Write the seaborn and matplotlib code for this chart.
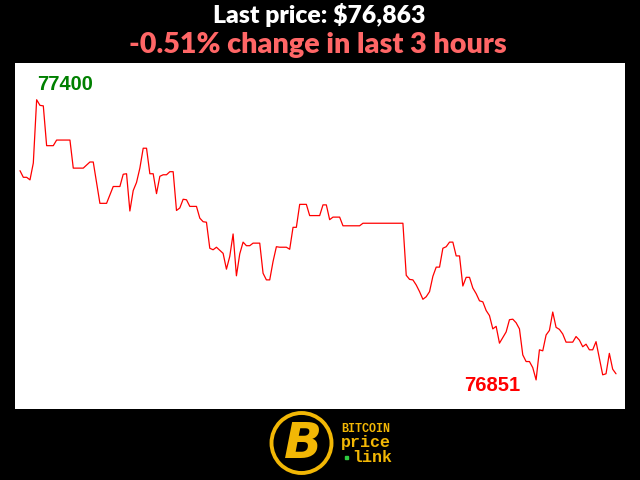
import matplotlib
matplotlib.use("Agg")
import matplotlib.pyplot as plt
import matplotlib.patches as mpatches
import seaborn as sns
import pandas as pd

# ---- data (minute index within the last 3 hours, price in USD) ----
minutes = [0, 1, 2, 3, 4, 5, 6, 7, 8, 10, 11, 15, 16, 19, 21, 22, 24, 26, 28, 30,
           31, 32, 33, 34, 35, 36, 37, 38, 39, 40, 41, 42, 43, 44, 45, 46, 47, 48, 49, 50,
           51, 53, 54, 55, 56, 57, 58, 59, 60, 61, 62, 63, 64, 65, 66, 67, 68, 69, 70, 72,
           73, 74, 75, 76, 77, 78, 80, 81, 82, 83, 84, 86, 87, 90, 91, 92, 93, 94, 96, 97,
           102, 103, 115, 116, 117, 118, 119, 120, 121, 122, 123, 124, 125, 126, 127, 128, 129, 130, 131, 132,
           133, 134, 135, 136, 137, 138, 139, 140, 141, 142, 143, 144, 145, 146, 147, 148, 149, 150, 151, 152,
           153, 154, 155, 156, 157, 158, 159, 160, 161, 162, 163, 164, 166, 167, 168, 169, 170, 171, 172, 173,
           174, 175, 176, 177, 178, 179]
prices = [77261, 77248, 77248, 77243, 77276, 77400, 77389, 77388, 77310, 77310, 77321, 77321, 77266, 77266, 77278, 77278, 77197, 77197, 77230, 77230,
          77254, 77255, 77182, 77222, 77238, 77266, 77305, 77305, 77255, 77255, 77216, 77250, 77253, 77253, 77259, 77259, 77183, 77188, 77205, 77204,
          77191, 77191, 77168, 77161, 77160, 77109, 77106, 77111, 77105, 77099, 77068, 77093, 77137, 77055, 77098, 77121, 77114, 77114, 77119, 77119,
          77060, 77047, 77047, 77083, 77112, 77111, 77111, 77107, 77150, 77150, 77195, 77195, 77173, 77173, 77194, 77194, 77165, 77170, 77170, 77153,
          77153, 77158, 77158, 77056, 77048, 77047, 77037, 77024, 77009, 77014, 77024, 77054, 77072, 77072, 77109, 77112, 77121, 77121, 77094, 77094,
          77035, 77052, 77052, 77031, 77020, 77006, 77004, 76987, 76977, 76951, 76956, 76923, 76934, 76945, 76969, 76970, 76963, 76951, 76900, 76887,
          76887, 76875, 76851, 76910, 76908, 76939, 76948, 76984, 76954, 76950, 76941, 76925, 76925, 76936, 76929, 76916, 76921, 76910, 76910, 76926,
          76894, 76861, 76863, 76903, 76872, 76863]

title_line1 = "Last price: $76,863"
title_line2 = "-0.51% change in last 3 hours"
max_label = "77400"
min_label = "76851"

df = pd.DataFrame({"minute": minutes, "price": prices})

sns.set_style("white")
plt.rcParams["font.family"] = ["Lato", "DejaVu Sans"]

fig = plt.figure(figsize=(6.4, 4.8), dpi=100, facecolor="black")
ax = fig.add_axes([15 / 640, 71 / 480, 610 / 640, 346 / 480])
ax.set_facecolor("white")

sns.lineplot(data=df, x="minute", y="price", ax=ax, color="#ff0000",
             linewidth=0.9, estimator=None, sort=False)

ax.set_xlim(-1.5, 181.7)
ax.set_ylim(76794, 77472)
ax.set_xticks([])
ax.set_yticks([])
ax.set_xlabel("")
ax.set_ylabel("")
for s in ax.spines.values():
    s.set_visible(False)

# max / min annotations
imax = prices.index(max(prices))
imin = prices.index(min(prices))
ax.annotate(max_label, xy=(minutes[imax], prices[imax]), xytext=(0, 10),
            textcoords="offset pixels", ha="left", va="baseline",
            color="#008000", fontsize=14.5, fontweight="bold",
            family=["Liberation Sans", "DejaVu Sans"])
ax.annotate(min_label, xy=(minutes[imin], prices[imin]), xytext=(-16, -11),
            textcoords="offset pixels", ha="right", va="baseline",
            color="#ff0000", fontsize=14.5, fontweight="bold",
            family=["Liberation Sans", "DejaVu Sans"])

# titles
t1 = fig.text(319 / 640, 1 - 23 / 480, title_line1, ha="center", va="baseline",
              color="white", fontsize=16, fontweight="heavy")
t2 = fig.text(318 / 640, 1 - 53 / 480, title_line2, ha="center", va="baseline",
              color="#ff6666", fontsize=20, fontweight="heavy")
fig.canvas.draw()
r = fig.canvas.get_renderer()
for t, target in ((t1, 212), (t2, 378)):
    w = t.get_window_extent(r).width
    t.set_fontsize(t.get_fontsize() * target / w)

# logo
gold = "#f2b705"
circ = mpatches.Circle((301.5 / 100, (480 - 443) / 100), 0.30,
                       transform=fig.dpi_scale_trans, fill=False,
                       edgecolor=gold, linewidth=2.8)
fig.add_artist(circ)
fig.text(303 / 640, 1 - 444 / 480, "B", ha="center", va="center", color=gold,
         fontsize=36, fontweight="heavy", fontstyle="italic",
         family=["DejaVu Sans"])
mono = ["Liberation Mono", "DejaVu Sans Mono"]
fig.text(341 / 640, 1 - 429 / 480, "BITCOIN", ha="left", va="center",
         color=gold, fontsize=8.5, fontweight="bold", family=mono)
fig.text(341 / 640, 1 - 443 / 480, "price", ha="left", va="center",
         color=gold, fontsize=12, fontweight="bold", family=mono)
fig.text(352 / 640, 1 - 457 / 480, "link", ha="left", va="center",
         color=gold, fontsize=12, fontweight="bold", family=mono)
fig.add_artist(mpatches.Rectangle((344.5 / 640, 1 - 459 / 480), 3 / 640, 3 / 480,
                                  transform=fig.transFigure, color="#2ecc40"))

fig.savefig("out.png", dpi=100, facecolor="black")
